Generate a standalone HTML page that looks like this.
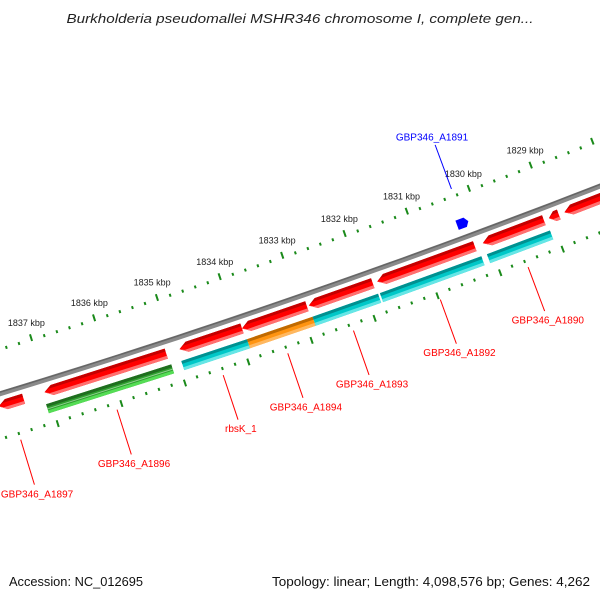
<!DOCTYPE html>
<html><head><meta charset="utf-8"><style>
html,body{margin:0;padding:0;background:#fff;}
svg{display:block;font-family:"Liberation Sans","DejaVu Sans",sans-serif;}
</style></head><body>
<svg id="map" width="600" height="600" viewBox="0 0 600 600">
<rect width="600" height="600" fill="#fff"/>
<text x="300" y="23" text-anchor="middle" font-size="13" font-style="italic" fill="#222" textLength="467" lengthAdjust="spacingAndGlyphs">Burkholderia pseudomallei MSHR346 chromosome I, complete gen...</text>
<g id="rings"></g>
<g id="feats"></g>
<g id="labels"></g>
<text x="9" y="586" font-size="13" fill="#111" textLength="134" lengthAdjust="spacingAndGlyphs">Accession: NC_012695</text>
<text x="590" y="586" text-anchor="end" font-size="13" fill="#111" textLength="318" lengthAdjust="spacingAndGlyphs">Topology: linear; Length: 4,098,576 bp; Genes: 4,262</text>
</svg>
<script>
// data
const tickLabels = [1837,1836,1835,1834,1833,1832,1831,1830,1829];
const geneNames = ["GBP346_A1897","GBP346_A1896","g1","g2","g3","g4","g5","g6","g7"];
const topStarts = [1837.77,1837.05,1834.92,1833.93,1832.87,1831.78,1830.09,1829.03,1828.78];
const topEnds   = [1837.38,1835.13,1833.93,1832.90,1831.85,1830.22,1829.11,1828.87,1827.80];
const lowStarts = [1837.08,1834.95,1833.91,1832.87,1831.80,1830.09];
const lowEnds   = [1835.11,1833.91,1832.87,1831.83,1830.18,1829.08];
const lowColors = ["green","cyan","orange","cyan","cyan","cyan"];
const revStarts = [1830.36];
const revEnds   = [1830.18];
const labelTexts = ["GBP346_A1897","GBP346_A1896","rbsK_1","GBP346_A1894","GBP346_A1893","GBP346_A1892","GBP346_A1890","GBP346_A1891"];
const labelKbp   = [1837.6,1836.09,1834.42,1833.40,1832.36,1830.98,1829.58,1830.25];
const labelSide  = [1,1,1,1,1,1,1,-1];

// axis functions (circular genome scale)
const C = {x:-2445, y:-7641};
const R = Math.hypot(422-C.x, 253-C.y);
const phi0 = Math.atan2(253-C.y, 422-C.x);
const A = 66.1/(R-43);
function pt(k, off){ const p = phi0 + (k-1831)*A, r = R+off; return [C.x+r*Math.cos(p), C.y+r*Math.sin(p)]; }
const NS="http://www.w3.org/2000/svg";
function mk(tag, attrs, parent){ const e=document.createElementNS(NS,tag); for(const a in attrs) e.setAttribute(a,attrs[a]); parent.appendChild(e); return e; }
function arcPath(k1,k2,off){ let d=""; for(let i=0;i<=40;i++){ const k=k1+(k2-k1)*i/40; const p=pt(k,off); d+=(i?"L":"M")+p[0].toFixed(1)+","+p[1].toFixed(1);} return d; }
function P(a){ return a.map(p=>p[0].toFixed(1)+","+p[1].toFixed(1)).join(" "); }

const rings=document.getElementById('rings'), feats=document.getElementById('feats'), labels=document.getElementById('labels');
// backbone
let bb=mk('path',{d:arcPath(1838.5,1826.5,0),stroke:'#8a8a8a','stroke-width':5,fill:'none'},rings);
 
let bb2=mk('path',{d:arcPath(1838.5,1826.5,-1.5),stroke:'#666','stroke-width':1.5,fill:'none'},rings);
 

// tick rings
function tickRing(off, dir, name){
  for(let t=18384; t>=18260; t-=2){
    const k=t/10, major = (t%10===0);
    const len = major?7:3;
    const a=pt(k,off), b=pt(k,off+dir*len);
    const l=mk('line',{x1:a[0],y1:a[1],x2:b[0],y2:b[1],stroke:'#1a8a1a','stroke-width':2},rings);
    
    
  }
}
tickRing(-41,-1,'outer');
tickRing(42,1,'inner');
tickLabels.forEach(k=>{
  const p=pt(k,-60);
  const t=mk('text',{x:p[0],y:p[1]+3,'text-anchor':'middle','font-size':9,fill:'#222'},rings);
  t.textContent=k+' kbp';
  
  
});

// features
function band(k1,k2,o1,o2,fill,parent){ return mk('polygon',{points:P([pt(k1,o1),pt(k2,o1),pt(k2,o2),pt(k1,o2)]),fill:fill},parent); }
function arrowLeft(k1,k2,o1,o2,cols,name){
  const g=mk('g',{},feats);
  
  
  const h=Math.min(0.12,(k1-k2)*0.6), m=(o1+o2)/2;
  mk('polygon',{points:P([pt(k1,m),pt(k1-h,o1),pt(k2,o1),pt(k2,o2),pt(k1-h,o2)]),fill:cols[0]},g);
  mk('polygon',{points:P([pt(k1,m),pt(k1-h,o1),pt(k2,o1),pt(k2,o1+3),pt(k1-h*0.6,o1+3)]),fill:cols[1]},g);
  mk('polygon',{points:P([pt(k1,m),pt(k1-h,o2),pt(k2,o2),pt(k2,o2-3),pt(k1-h*0.6,o2-3)]),fill:cols[2]},g);
}
const RED=['#ff0000','#c40000','#ff7070'];
topStarts.forEach((s,i)=>arrowLeft(s,topEnds[i],6.5,17,RED,'forward-gene-'+(i+1)));
const palette={green:['#2e9e2e','#1f6e1f','#55dd55'],cyan:['#00c8c8','#009090','#66e6e6'],orange:['#ff9410','#c06a00','#ffb860']};
lowStarts.forEach((s,i)=>{
  const c=palette[lowColors[i]];
  const g=mk('g',{},feats);
  
  
  band(s,lowEnds[i],23.5,33,c[0],g);
  band(s,lowEnds[i],23.5,26.5,c[1],g);
  band(s,lowEnds[i],30,33,c[2],g);
  if(lowColors[i]==='green') band(s,lowEnds[i],28,29,'#8fd08f',g);
});
revStarts.forEach((s,i)=>{
  const e=revEnds[i], m=-14;
  const pg=mk('polygon',{points:P([pt(s,-19),pt(e+0.05,-19),pt(e,m),pt(e+0.05,-9),pt(s,-9)]),fill:'#0000ff'},feats);
  
  
});

// labels
labelTexts.forEach((txt,i)=>{
  const k=labelKbp[i], s=labelSide[i];
  const col = s>0?'#ff0000':'#0000ff';
  const a=pt(k,s*50), b=pt(k,s*97);
  const l=mk('line',{x1:a[0],y1:a[1],x2:b[0],y2:b[1],stroke:col,'stroke-width':1},labels);
  
  
  const p=pt(k,s*106);
  const t=mk('text',{x:p[0],y:p[1]+4,'text-anchor':'middle','font-size':10,fill:col},labels);
  t.textContent=txt;
  
  
});
</script>
</body></html>
